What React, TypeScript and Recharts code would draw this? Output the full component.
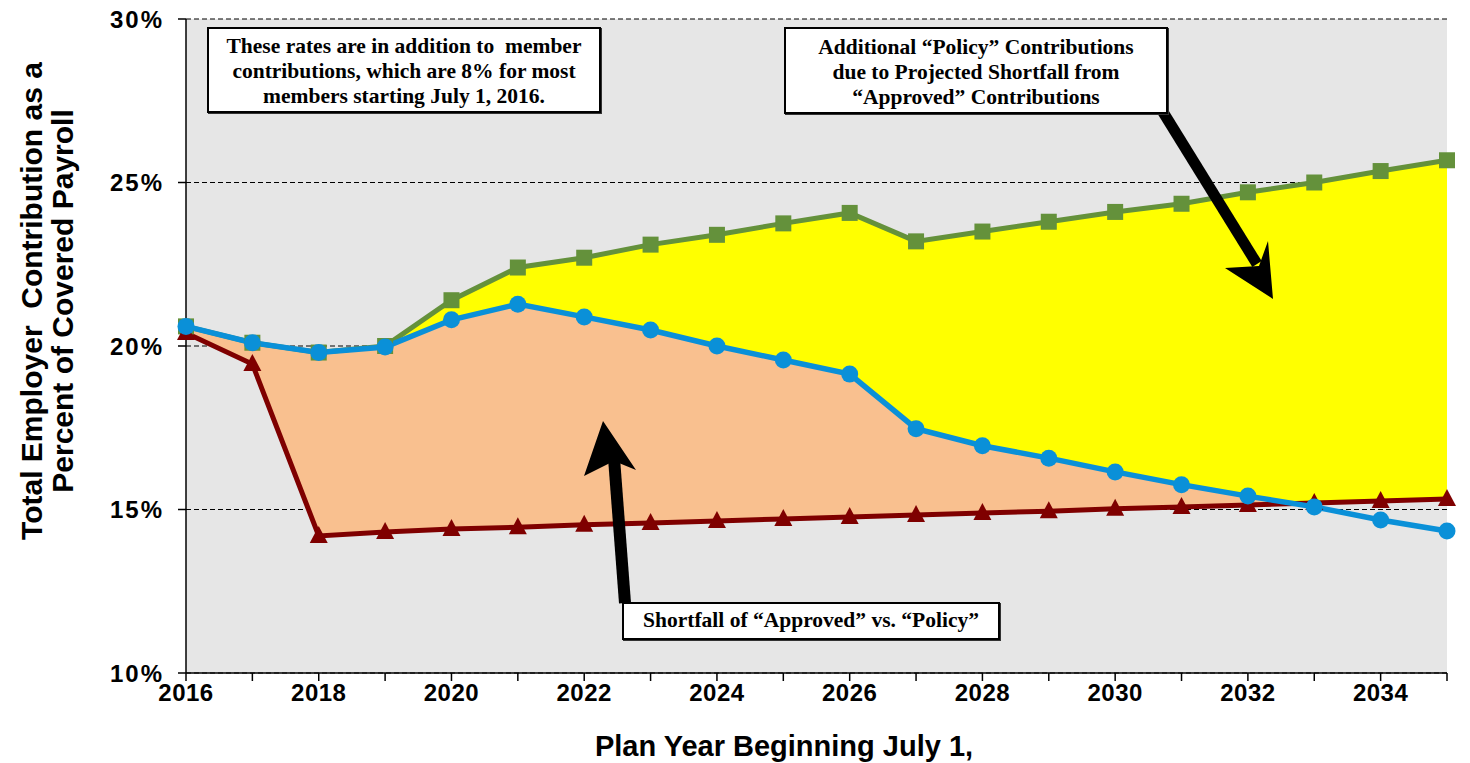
import React from 'react';
import { ComposedChart, Area, Line, XAxis, YAxis, CartesianGrid } from 'recharts';

const years = [2016, 2017, 2018, 2019, 2020, 2021, 2022, 2023, 2024, 2025, 2026, 2027, 2028, 2029, 2030, 2031, 2032, 2033, 2034, 2035];
const policyWithShortfall = [20.6, 20.1, 19.8, 20.0, 21.4, 22.4, 22.7, 23.1, 23.4, 23.75, 24.07, 23.2, 23.5, 23.8, 24.1, 24.35, 24.7, 25.0, 25.35, 25.68];
const policyRate = [20.6, 20.1, 19.8, 19.97, 20.8, 21.28, 20.89, 20.49, 20.0, 19.57, 19.14, 17.47, 16.95, 16.57, 16.15, 15.76, 15.41, 15.08, 14.68, 14.34];
const approvedRate = [20.4, 19.45, 14.19, 14.31, 14.4, 14.46, 14.53, 14.59, 14.65, 14.71, 14.77, 14.83, 14.89, 14.95, 15.02, 15.08, 15.14, 15.2, 15.26, 15.32];
const yTicks = [10, 15, 20, 25, 30];

const data = years.map((y, i) => ({
  year: y,
  green: policyWithShortfall[i],
  blue: policyRate[i],
  red: approvedRate[i],
  yellowBand: [approvedRate[i], policyWithShortfall[i]],
  peachBand: [approvedRate[i], Math.max(policyRate[i], approvedRate[i])],
}));

const GREEN = '#64913B';
const BLUE = '#0A90D8';
const RED = '#7F0000';
const SANS = '"Liberation Sans", Arial, sans-serif';

const Square = (props: any) => {
  const { cx, cy } = props;
  if (cx == null || cy == null) return null;
  return <rect x={cx - 8} y={cy - 8} width={16} height={16} fill={GREEN} />;
};
const Circle = (props: any) => {
  const { cx, cy } = props;
  if (cx == null || cy == null) return null;
  return <circle cx={cx} cy={cy} r={8.5} fill={BLUE} />;
};
const Triangle = (props: any) => {
  const { cx, cy } = props;
  if (cx == null || cy == null) return null;
  return <polygon points={`${cx},${cy - 10} ${cx - 9},${cy + 7} ${cx + 9},${cy + 7}`} fill={RED} />;
};

const XTick = (props: any) => {
  const { x, y, payload } = props;
  const v = payload.value;
  if (v % 2 !== 0) return null;
  return (
    <text x={x} y={y} dy="0.71em" textAnchor="middle" fill="#000" fontFamily={SANS} fontWeight="bold" fontSize={24} letterSpacing={0.5}>
      {String(v)}
    </text>
  );
};
const YTick = (props: any) => {
  const { x, y, payload } = props;
  return (
    <text x={x} y={y} dy="0.36em" textAnchor="end" fill="#000" fontFamily={SANS} fontWeight="bold" fontSize={24} letterSpacing={2}>
      {`${payload.value}%`}
    </text>
  );
};

const boxStyle: React.CSSProperties = {
  position: 'absolute',
  background: '#fff',
  border: '2px solid #000',
  boxShadow: '1px 1px 0 #333',
  fontFamily: '"Liberation Serif", "Times New Roman", serif',
  fontWeight: 'bold',
  fontSize: 21.5,
  lineHeight: '25px',
  textAlign: 'center',
  color: '#000',
  boxSizing: 'border-box',
  whiteSpace: 'nowrap',
};

export default function App() {
  return (
    <div style={{ position: 'absolute', left: 0, top: 0, width: 1470, height: 763, background: '#fff' }}>
      <ComposedChart width={1470} height={763} data={data} margin={{ top: 19, right: 23, bottom: 50, left: 0 }}>
        <CartesianGrid vertical={false} stroke="#000" strokeWidth={1.2} strokeDasharray="5 3" fill="#E6E6E6" fillOpacity={1} />
        <XAxis
          dataKey="year"
          type="number"
          domain={[2016, 2035]}
          ticks={years}
          interval={0}
          height={40}
          tickSize={8}
          tickMargin={3}
          axisLine={{ stroke: '#000', strokeWidth: 1.5 }}
          tickLine={{ stroke: '#000', strokeWidth: 1.5 }}
          tick={<XTick />}
        />
        <YAxis
          type="number"
          domain={[10, 30]}
          ticks={yTicks}
          interval={0}
          width={186}
          tickSize={8}
          tickMargin={14}
          axisLine={{ stroke: '#000', strokeWidth: 1.5 }}
          tickLine={{ stroke: '#000', strokeWidth: 1.5 }}
          tick={<YTick />}
        />
        <Area dataKey="yellowBand" type="linear" fill="#FFFF00" fillOpacity={1} stroke="none" dot={false} activeDot={false} isAnimationActive={false} />
        <Area dataKey="peachBand" type="linear" fill="#F9C08F" fillOpacity={1} stroke="none" dot={false} activeDot={false} isAnimationActive={false} />
        <Line dataKey="green" type="linear" stroke={GREEN} strokeWidth={5} dot={<Square />} activeDot={false} isAnimationActive={false} />
        <Line dataKey="red" type="linear" stroke={RED} strokeWidth={5} dot={<Triangle />} activeDot={false} isAnimationActive={false} />
        <Line dataKey="blue" type="linear" stroke={BLUE} strokeWidth={5.5} dot={<Circle />} activeDot={false} isAnimationActive={false} />
      </ComposedChart>

      <svg width={1470} height={763} style={{ position: 'absolute', left: 0, top: 0, pointerEvents: 'none' }}>
        <g fontFamily={SANS} fontWeight="bold" fill="#000" fontSize={30} style={{ whiteSpace: 'pre' }}>
          <text transform="translate(42,301) rotate(-90)" textAnchor="middle" xmlSpace="preserve">Total Employer  Contribution as a</text>
          <text transform="translate(73,301) rotate(-90)" textAnchor="middle">Percent of Covered Payroll</text>
          <text x={784} y={756} textAnchor="middle" fontSize={29}>Plan Year Beginning July 1,</text>
        </g>
        <line x1={1163} y1={112} x2={1257} y2={264} stroke="#000" strokeWidth={11} />
        <polygon points="1273,299 1225,268 1259,266 1268,241" fill="#000" />
        <line x1={625} y1={603} x2={614} y2={458} stroke="#000" strokeWidth={12} />
        <polygon points="603,421 584,476 614,461 636,470" fill="#000" />
      </svg>

      <div style={{ ...boxStyle, left: 207, top: 27, width: 394, height: 86, paddingTop: 5 }}>
        These rates are in addition to&nbsp; member<br />contributions, which are 8% for most<br />members starting July 1, 2016.
      </div>
      <div style={{ ...boxStyle, left: 784, top: 27, width: 384, height: 87, paddingTop: 6 }}>
        Additional “Policy” Contributions<br />due to Projected Shortfall from<br />“Approved” Contributions
      </div>
      <div style={{ ...boxStyle, left: 622, top: 602, width: 378, height: 38, paddingTop: 4 }}>
        Shortfall of “Approved” vs. “Policy”
      </div>
    </div>
  );
}
